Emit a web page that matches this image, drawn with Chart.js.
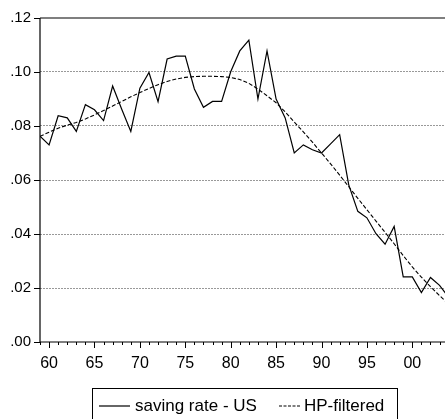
<!DOCTYPE html>
<html>
<head>
<meta charset="utf-8">
<script src="https://cdn.jsdelivr.net/npm/chart.js@4/dist/chart.umd.min.js"></script>
<style>
  html, body { margin: 0; padding: 0; background: #fff; }
  #wrap { width: 445px; height: 419px; position: relative; }
</style>
</head>
<body>
<div id="wrap"><canvas id="c"></canvas></div>
<script>
// Annual observations
const years = [1959,1960,1961,1962,1963,1964,1965,1966,1967,1968,1969,1970,1971,1972,1973,1974,1975,1976,1977,1978,1979,1980,1981,1982,1983,1984,1985,1986,1987,1988,1989,1990,1991,1992,1993,1994,1995,1996,1997,1998,1999,2000,2001,2002,2003,2004];

// Personal saving rate, US
const savingRate = [0.0762,0.0730,0.0838,0.0830,0.0780,0.0879,0.0860,0.0820,0.0948,0.0862,0.0780,0.0940,0.0998,0.0890,0.1048,0.1059,0.1059,0.0937,0.0869,0.0891,0.0891,0.1001,0.1078,0.1118,0.0900,0.1078,0.0900,0.0830,0.0700,0.0730,0.0712,0.0700,0.0734,0.0768,0.0582,0.0484,0.0460,0.0401,0.0362,0.0428,0.0241,0.0241,0.0183,0.0239,0.0210,0.0165];

// Hodrick-Prescott trend of the same series
const hpTrend = [0.0762,0.0777,0.0792,0.0803,0.0813,0.0826,0.0841,0.0857,0.0874,0.0891,0.0908,0.0924,0.0939,0.0953,0.0965,0.0974,0.0980,0.0983,0.0984,0.0984,0.0983,0.0980,0.0972,0.0958,0.0937,0.0912,0.0886,0.0852,0.0815,0.0778,0.0740,0.0700,0.0660,0.0618,0.0575,0.0532,0.0490,0.0448,0.0406,0.0364,0.0320,0.0278,0.0240,0.0205,0.0172,0.0140];

const seriesLabels = ['saving rate - US', 'HP-filtered'];
const yTicks = [0, 0.02, 0.04, 0.06, 0.08, 0.10, 0.12];
const xMajorTicks = [1960, 1965, 1970, 1975, 1980, 1985, 1990, 1995, 2000];

const FONT = '"Liberation Sans", Arial, sans-serif';

const toPoints = vals => years.map((yr, i) => ({ x: yr, y: vals[i] }));

// Frame, axis tick marks and boxed legend
const framePlugin = {
  id: 'frame',
  afterDraw(chart) {
    const { ctx, chartArea: a, scales } = chart;
    const xs = scales.x, ys = scales.y;
    ctx.save();
    ctx.strokeStyle = '#000';
    ctx.lineWidth = 1.2;
    ctx.setLineDash([]);
    // top border, left axis, bottom axis
    ctx.beginPath();
    ctx.moveTo(a.left, a.top); ctx.lineTo(a.right + 2, a.top);
    ctx.moveTo(a.left, a.top); ctx.lineTo(a.left, a.bottom);
    ctx.moveTo(a.left, a.bottom); ctx.lineTo(a.right + 2, a.bottom);
    ctx.stroke();
    ctx.lineWidth = 1;
    // y tick marks
    ctx.beginPath();
    yTicks.forEach(v => {
      const py = Math.round(ys.getPixelForValue(v)) + 0.5;
      ctx.moveTo(a.left - 6, py); ctx.lineTo(a.left, py);
    });
    // x tick marks: one per year, longer at labelled years
    for (let yr = Math.ceil(xs.min); yr <= xs.max; yr++) {
      const px = Math.round(xs.getPixelForValue(yr)) + 0.5;
      const len = xMajorTicks.includes(yr) ? 6 : 3;
      ctx.moveTo(px, a.bottom); ctx.lineTo(px, a.bottom + len);
    }
    ctx.stroke();

    // legend box
    const bx = 92.5, by = 388.5, bw = 305, bh = 40;
    ctx.strokeRect(bx, by, bw, bh);
    const ly = 406;
    ctx.font = '17px ' + FONT;
    ctx.fillStyle = '#000';
    ctx.textBaseline = 'middle';
    ctx.textAlign = 'left';
    ctx.lineWidth = 1.2;
    ctx.beginPath(); ctx.moveTo(99, ly); ctx.lineTo(130, ly); ctx.stroke();
    ctx.fillText(seriesLabels[0], 135, ly);
    ctx.setLineDash([3, 1.5]);
    ctx.beginPath(); ctx.moveTo(279, ly); ctx.lineTo(300, ly); ctx.stroke();
    ctx.setLineDash([]);
    ctx.fillText(seriesLabels[1], 304, ly);
    ctx.restore();
  }
};

new Chart(document.getElementById('c'), {
  type: 'line',
  data: {
    datasets: [
      {
        label: seriesLabels[0],
        data: toPoints(savingRate),
        borderColor: '#000',
        borderWidth: 1.2,
        pointRadius: 0,
        tension: 0,
        fill: false
      },
      {
        label: seriesLabels[1],
        data: toPoints(hpTrend),
        borderColor: '#000',
        borderWidth: 1.1,
        borderDash: [4, 2],
        pointRadius: 0,
        tension: 0,
        fill: false
      }
    ]
  },
  options: {
    responsive: true,
    maintainAspectRatio: false,
    animation: false,
    events: [],
    layout: { padding: { top: 17, right: 0, left: 0, bottom: 0 } },
    plugins: { legend: { display: false }, tooltip: { enabled: false } },
    scales: {
      x: {
        type: 'linear',
        min: 1959,
        max: 2003.6,
        border: { display: false },
        grid: { display: false, drawTicks: false },
        afterBuildTicks: s => { s.ticks = xMajorTicks.map(v => ({ value: v })); },
        afterFit: s => { s.height = 77; },
        ticks: {
          padding: 12,
          color: '#000',
          font: { family: FONT, size: 16 },
          maxRotation: 0,
          autoSkip: false,
          callback: v => String(v).slice(2)
        }
      },
      y: {
        min: 0,
        max: 0.12,
        border: { display: false, dash: [2, 1] },
        afterBuildTicks: s => { s.ticks = yTicks.map(v => ({ value: v })); },
        afterFit: s => { s.width = 40; },
        grid: {
          drawTicks: false,
          lineWidth: 1,
          color: ctx => (ctx.tick && (ctx.tick.value === 0 || Math.abs(ctx.tick.value - 0.12) < 1e-9)) ? 'rgba(0,0,0,0)' : '#999999'
        },
        ticks: {
          padding: 9,
          color: '#000',
          font: { family: FONT, size: 15 },
          callback: v => v.toFixed(2).replace(/^0/, '')
        }
      }
    }
  },
  plugins: [framePlugin]
});
</script>
</body>
</html>
